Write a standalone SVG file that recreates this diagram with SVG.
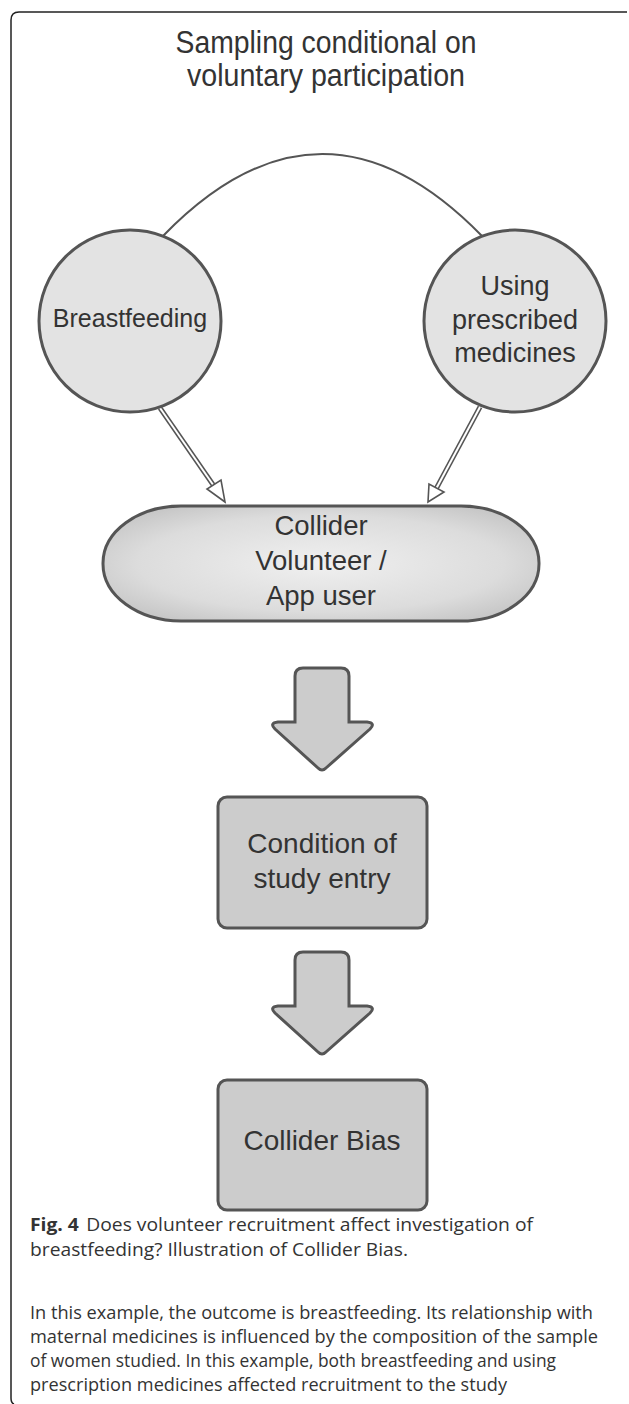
<svg xmlns="http://www.w3.org/2000/svg" width="629" height="1404" viewBox="0 0 629 1404">
<style>
.lbl{font-family:"Liberation Sans",Arial,sans-serif;fill:#333;text-anchor:middle}
.cap{font-family:"Open Sans","Noto Sans",sans-serif;fill:#333;font-size:18.5px}
.node{stroke:#555;stroke-width:3}
.circ{fill:#e3e3e3}
.box{fill:#cccccc}
.dbl-out{stroke:#555;stroke-width:5;fill:none}
.dbl-in{stroke:#fff;stroke-width:2;fill:none}
.head{fill:#fff;stroke:#555;stroke-width:1.6;stroke-linejoin:miter}
</style>
<defs>
<radialGradient id="cg" cx="0.5" cy="0.5" r="0.6">
<stop offset="0" stop-color="#f0f0f0"/>
<stop offset="0.7" stop-color="#dcdcdc"/>
<stop offset="1" stop-color="#c6c6c6"/>
</radialGradient>
</defs>
<rect width="629" height="1404" fill="#fff"/>
<path d="M627 12 H19 Q11 12 11 20 V1398 Q11 1403 14 1404" fill="none" stroke="#222" stroke-width="1.5"/>
<g id="title">
<text class="lbl" x="326" y="53" font-size="31" textLength="301" lengthAdjust="spacingAndGlyphs">Sampling conditional on</text>
<text class="lbl" x="326" y="86" font-size="31" textLength="278" lengthAdjust="spacingAndGlyphs">voluntary participation</text>
</g>
<g id="connectors">
<path d="M163 236 Q322 72 482 236" fill="none" stroke="#555" stroke-width="2"/>
<line class="dbl-out" x1="160" y1="408" x2="216" y2="489"/>
<line class="dbl-in" x1="160" y1="408" x2="216" y2="489"/>
<polygon class="head" points="225,502 207,489 221,480"/>
<line class="dbl-out" x1="480" y1="407" x2="436" y2="489"/>
<line class="dbl-in" x1="480" y1="407" x2="436" y2="489"/>
<polygon class="head" points="428,502 429,484 444,492"/>
<path class="node box" d="M303 668 H341 Q349 668 349 676 V722 H367 Q376 723 370 729 L326 768 Q322 772 318 768 L275 729 Q269 723 278 722 H295 V676 Q295 668 303 668 Z"/>
<path class="node box" d="M303 952 H341 Q349 952 349 960 V1006 H367 Q376 1007 370 1013 L326 1052 Q322 1056 318 1052 L275 1013 Q269 1007 278 1006 H295 V960 Q295 952 303 952 Z"/>
</g>
<g id="breastfeeding">
<circle class="node circ" cx="130" cy="321" r="91"/>
<text class="lbl" x="130" y="327" font-size="25">Breastfeeding</text>
</g>
<g id="medicines">
<circle class="node circ" cx="515" cy="321" r="91"/>
<text class="lbl" x="515" y="295" font-size="27">Using</text>
<text class="lbl" x="515" y="329" font-size="27">prescribed</text>
<text class="lbl" x="515" y="362" font-size="27">medicines</text>
</g>
<g id="collider">
<rect class="node" x="103" y="506" width="436" height="115" rx="78" ry="57" fill="url(#cg)"/>
<text class="lbl" x="321" y="535" font-size="27.5">Collider</text>
<text class="lbl" x="321" y="570" font-size="27.5">Volunteer /</text>
<text class="lbl" x="321" y="605" font-size="27.5">App user</text>
</g>
<g id="condition">
<rect class="node box" x="218" y="797" width="209" height="131" rx="9"/>
<text class="lbl" x="322" y="853" font-size="28">Condition of</text>
<text class="lbl" x="322" y="888" font-size="28">study entry</text>
</g>
<g id="bias">
<rect class="node box" x="218" y="1080" width="209" height="130" rx="9"/>
<text class="lbl" x="322" y="1150" font-size="28">Collider Bias</text>
</g>
<g id="caption">
<text class="cap" x="30" y="1231" textLength="503" lengthAdjust="spacingAndGlyphs"><tspan font-weight="bold">Fig. 4</tspan><tspan dx="7">Does volunteer recruitment affect investigation of</tspan></text>
<text class="cap" x="30" y="1256" textLength="378" lengthAdjust="spacingAndGlyphs">breastfeeding? Illustration of Collider Bias.</text>
<text class="cap" x="30" y="1319" textLength="563" lengthAdjust="spacingAndGlyphs">In this example, the outcome is breastfeeding. Its relationship with</text>
<text class="cap" x="30" y="1343" textLength="568" lengthAdjust="spacingAndGlyphs">maternal medicines is influenced by the composition of the sample</text>
<text class="cap" x="30" y="1367" textLength="526" lengthAdjust="spacingAndGlyphs">of women studied. In this example, both breastfeeding and using</text>
<text class="cap" x="30" y="1391" textLength="477" lengthAdjust="spacingAndGlyphs">prescription medicines affected recruitment to the study</text>
</g>
</svg>
